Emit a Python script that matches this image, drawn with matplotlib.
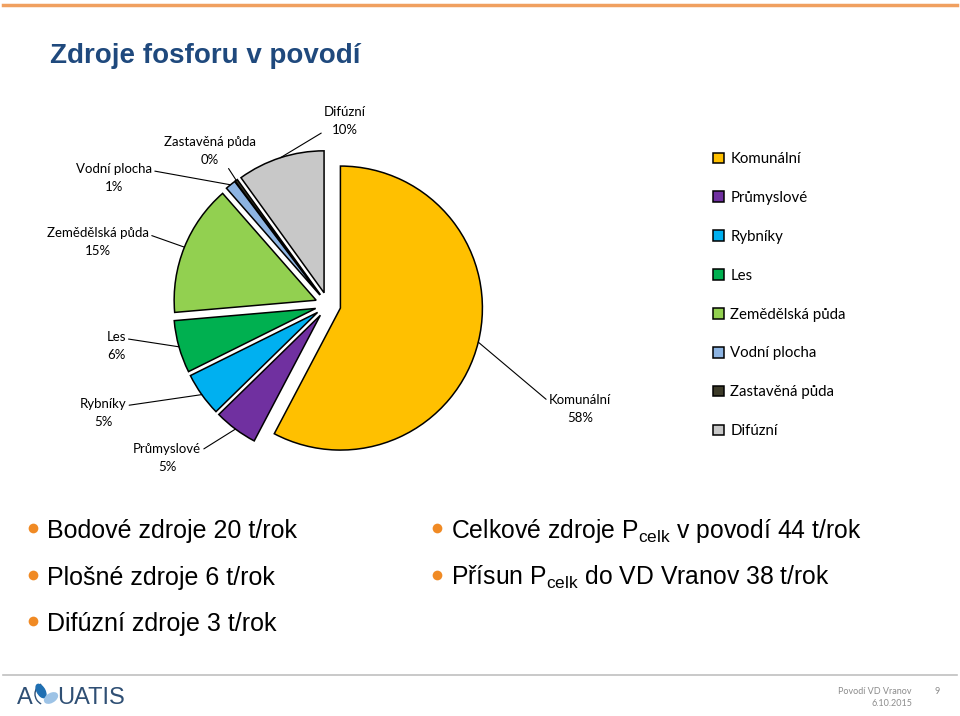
import matplotlib
matplotlib.use('Agg')
import matplotlib.pyplot as plt
from matplotlib.lines import Line2D
from matplotlib.patches import Ellipse, Arc
import numpy as np

plt.rcParams['font.family'] = ['Lato', 'DejaVu Sans']
plt.rcParams['mathtext.fontset'] = 'custom'
plt.rcParams['mathtext.rm'] = 'Liberation Sans'

W, H = 960, 716

sources = ['Komunální', 'Průmyslové', 'Rybníky', 'Les', 'Zemědělská půda',
           'Vodní plocha', 'Zastavěná půda', 'Difúzní']
shares = [58, 5, 5, 6, 15, 1.2, 0.3, 10]
colors = ['#ffc000', '#7030a0', '#00b0f0', '#00b050', '#92d050',
          '#8db4e2', '#3c3a28', '#c8c8c8']

bullets_left = ['Bodové zdroje 20 t/rok', 'Plošné zdroje 6 t/rok', 'Difúzní zdroje 3 t/rok']
bullets_right = [r'Celkové zdroje P$_\mathrm{celk}$ v povodí 44 t/rok',
                 r'Přísun P$_\mathrm{celk}$ do VD Vranov 38 t/rok']

# label centres (px from top left) and where the leader leaves the text
label_pos = [(580, 409), (167, 458), (103, 413), (116, 346), (98, 242),
             (114, 178), (210, 151), (345, 121)]
label_rel = [(0, 0.75), (1, 0.75), (1, 0.75), (1, 0.75), (1, 0.75),
             (1, 0.75), (0.63, 0.25), (0.12, 0.25)]


def fx(x):
    return x / W


def fy(y):
    return 1 - y / H


fig = plt.figure(figsize=(9.6, 7.16), dpi=100)

# slide frame
fig.add_artist(Line2D([fx(3), fx(957)], [fy(5), fy(5)], color='#f0a060', lw=2.5))
fig.add_artist(Line2D([fx(3), fx(957)], [fy(675), fy(675)], color='#c0c0c0', lw=1.2))
fig.text(fx(50), fy(63), 'Zdroje fosforu v povodí', family='Liberation Sans',
         weight='bold', fontsize=20, color='#1f497d', va='baseline')

# pie
R = 142
cx, cy = 328, 305
k = 1.3
ax = fig.add_axes([fx(cx - k * R), fy(cy + k * R), 2 * k * R / W, 2 * k * R / H])
wedges, _ = ax.pie(shares, colors=colors, startangle=90, counterclock=False,
                   explode=[0.09] * len(shares),
                   wedgeprops=dict(edgecolor='black', linewidth=1.1))
ax.set_xlim(-k, k)
ax.set_ylim(-k, k)
ax.axis('off')

total = sum(shares)
for w, name, val, (lx, ly), rel in zip(wedges, sources, shares, label_pos, label_rel):
    mid = np.deg2rad((w.theta1 + w.theta2) / 2)
    x0, y0 = w.center
    tip = (x0 + w.r * np.cos(mid), y0 + w.r * np.sin(mid))
    ax.annotate(f'{name}\n{val / total * 100:.0f}%', xy=tip, xytext=(lx, H - ly),
                textcoords='figure pixels', ha='center', va='center', fontsize=9.5,
                linespacing=1.55,
                arrowprops=dict(arrowstyle='-', color='black', lw=0.8,
                                shrinkA=0, shrinkB=0, relpos=rel))

fig.legend(wedges, sources, loc='upper left', bbox_to_anchor=(fx(713), fy(152)),
           frameon=False, fontsize=10.8, handlelength=0.7, handleheight=0.7,
           handletextpad=0.45, labelspacing=1.66, borderpad=0, borderaxespad=0)

# bullet points
for i, t in enumerate(bullets_left):
    y = 538 + i * 46.5
    fig.add_artist(Line2D([fx(33)], [fy(y - 10)], marker='o', ms=7,
                          color='#f08a24', mec='none'))
    fig.text(fx(47), fy(y), t, family='Liberation Sans', fontsize=18, va='baseline')
for i, t in enumerate(bullets_right):
    y = 538 + i * 46.5
    fig.add_artist(Line2D([fx(437)], [fy(y - 10)], marker='o', ms=7,
                          color='#f08a24', mec='none'))
    fig.text(fx(451), fy(y), t, family='Liberation Sans', fontsize=17.8, va='baseline')

# footer logo
fig.text(fx(17), fy(704), 'A', family='Liberation Sans', fontsize=17,
         color='#2f4f74', va='baseline')
fig.add_artist(Arc((fx(46), fy(694)), 22 / W, 22 / H, theta1=110, theta2=250,
                   color='#2f4f74', lw=1, transform=fig.transFigure))
fig.add_artist(Ellipse((fx(41), fy(691)), 8 / W, 14 / H, angle=20,
                       color='#1f6fb2', transform=fig.transFigure))
fig.add_artist(Ellipse((fx(51), fy(698)), 10 / W, 12 / H, angle=-40,
                       color='#9dc3e6', transform=fig.transFigure))
fig.text(fx(57), fy(704), 'UATIS', family='Liberation Sans', fontsize=17,
         color='#2f4f74', va='baseline')
fig.text(fx(912), fy(692), 'Povodí VD Vranov', fontsize=6.5, color='#8c8c8c',
         ha='right', va='center')
fig.text(fx(912), fy(704), '6.10.2015', fontsize=6.5, color='#8c8c8c',
         ha='right', va='center')
fig.text(fx(937), fy(691), '9', fontsize=6.5, color='#8c8c8c', ha='center', va='center')

fig.savefig('out.png', dpi=100)
